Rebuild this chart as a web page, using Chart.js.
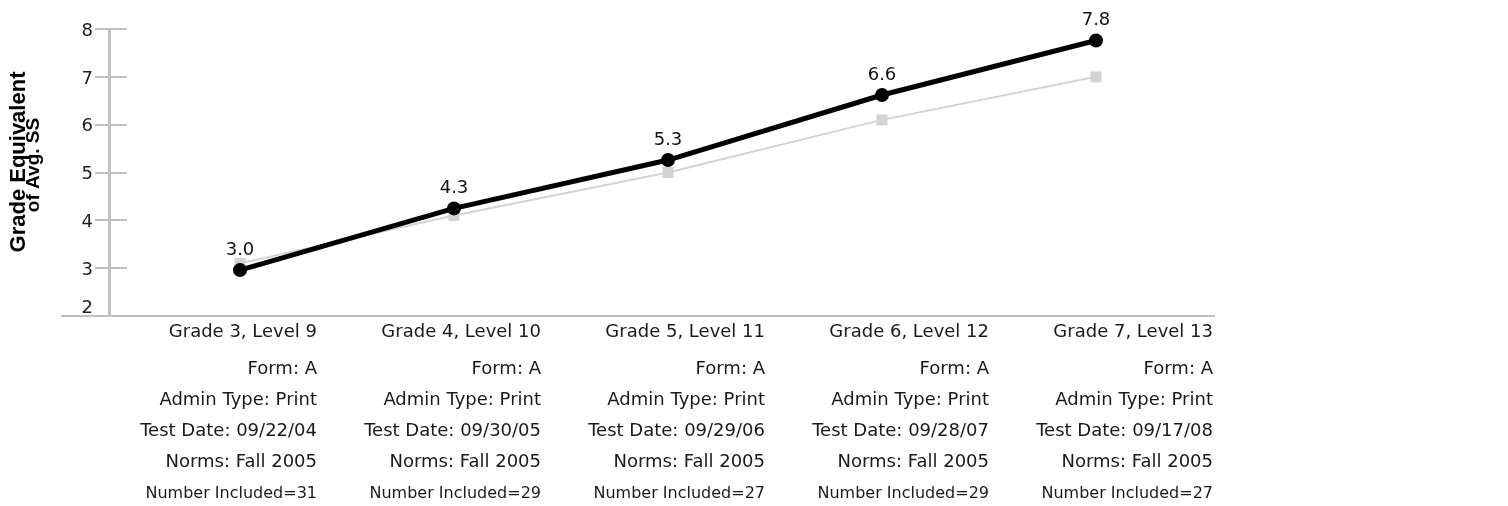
<!DOCTYPE html>
<html>
<head>
<meta charset="utf-8">
<script src="https://cdn.jsdelivr.net/npm/chart.js@4/dist/chart.umd.min.js"></script>
<style>
  html, body { margin: 0; padding: 0; background: #fff; }
  #wrap { width: 1508px; height: 506px; }
</style>
</head>
<body>
<div id="wrap"><canvas id="myChart"></canvas></div>
<script>
const grades = ['Grade 3, Level 9', 'Grade 4, Level 10', 'Grade 5, Level 11', 'Grade 6, Level 12', 'Grade 7, Level 13'];
const forms = ['A', 'A', 'A', 'A', 'A'];
const adminTypes = ['Print', 'Print', 'Print', 'Print', 'Print'];
const testDates = ['09/22/04', '09/30/05', '09/29/06', '09/28/07', '09/17/08'];
const norms = ['Fall 2005', 'Fall 2005', 'Fall 2005', 'Fall 2005', 'Fall 2005'];
const numberIncluded = [31, 29, 27, 29, 27];

const avgGE = [2.96, 4.25, 5.26, 6.62, 7.76];
const avgGELabels = ['3.0', '4.3', '5.3', '6.6', '7.8'];
const compareGE = [3.1, 4.1, 5.0, 6.1, 7.0];

const yTicks = [2, 3, 4, 5, 6, 7, 8];

const axisGrey = '#c0c0c0';
const textColor = '#1a1a1a';

// tick stubs on the right side of the y axis + the x axis line left of it
const axisExtras = {
    id: 'axisExtras',
    afterLayout(chart) {
        // lift the bottom "2" so it sits on the x axis like the original
        const y = chart.scales.y;
        const items = y.getLabelItems(chart.chartArea);
        items.forEach((it, i) => {
            const v = y.ticks[i] && y.ticks[i].value;
            it.options.translation[1] += (v === 2) ? -8 : 2;
        });
    },
    afterDraw(chart) {
        const ctx = chart.ctx;
        const area = chart.chartArea;
        const y = chart.scales.y;
        ctx.save();
        ctx.strokeStyle = axisGrey;
        ctx.lineWidth = 2;
        yTicks.forEach(v => {
            if (v === 2) return;
            const py = Math.round(y.getPixelForValue(v));
            ctx.beginPath();
            ctx.moveTo(area.left, py);
            ctx.lineTo(area.left + 18, py);
            ctx.stroke();
        });
        ctx.beginPath();
        ctx.moveTo(61, Math.round(area.bottom));
        ctx.lineTo(area.left, Math.round(area.bottom));
        ctx.stroke();

        // y axis title, two lines in two sizes
        ctx.fillStyle = '#000';
        ctx.translate(25, 162);
        ctx.rotate(-Math.PI / 2);
        ctx.textAlign = 'center';
        ctx.textBaseline = 'alphabetic';
        ctx.font = 'bold 22px "Liberation Sans"';
        ctx.fillText('Grade Equivalent', 0, 0);
        ctx.font = 'bold 19px "Liberation Sans"';
        ctx.fillText('of Avg. SS', -3, 14);
        ctx.restore();
    }
};

const pointLabels = {
    id: 'pointLabels',
    afterDatasetsDraw(chart) {
        const meta = chart.getDatasetMeta(0);
        const ctx = chart.ctx;
        ctx.save();
        ctx.fillStyle = '#111';
        ctx.font = '18px "DejaVu Sans"';
        ctx.textAlign = 'center';
        ctx.textBaseline = 'alphabetic';
        meta.data.forEach((pt, i) => {
            ctx.fillText(avgGELabels[i], pt.x, pt.y - 15);
        });
        ctx.restore();
    }
};

function labelAxis(weight, height, padding, size, lineHeight, getLabel) {
    return {
        type: 'linear',
        position: 'bottom',
        bounds: 'data',
        weight: weight,
        min: -0.9286,
        max: 4.0045,
        afterFit: (s) => { s.height = height; },
        grid: { display: false, drawTicks: false },
        border: { display: false },
        afterBuildTicks: (s) => { s.ticks = grades.map((g, i) => ({ value: i })); },
        ticks: {
            autoSkip: false,
            maxRotation: 0,
            minRotation: 0,
            align: 'end',
            padding: padding,
            color: textColor,
            font: { family: 'DejaVu Sans', size: size, lineHeight: lineHeight },
            callback: (v) => getLabel(Math.round(v))
        }
    };
}

const config = {
    type: 'line',
    data: {
        datasets: [
            {
                label: 'Grade Equivalent of Avg. SS',
                data: avgGE.map((v, i) => ({ x: i, y: v })),
                borderColor: '#000',
                backgroundColor: '#000',
                borderWidth: 5,
                pointRadius: 7,
                pointBorderWidth: 0,
                pointBackgroundColor: '#000',
                order: 0
            },
            {
                label: 'Comparison',
                data: compareGE.map((v, i) => ({ x: i, y: v })),
                borderColor: '#d3d3d3',
                backgroundColor: '#d3d3d3',
                borderWidth: 2,
                pointStyle: 'rect',
                pointRadius: 7.8,
                pointBorderWidth: 0,
                pointBackgroundColor: '#d3d3d3',
                order: 1
            }
        ]
    },
    options: {
        responsive: true,
        maintainAspectRatio: false,
        animation: false,
        layout: { padding: { top: 29, right: 294, bottom: 3, left: 0 } },
        plugins: {
            legend: { display: false },
            tooltip: { enabled: false }
        },
        scales: {
            x: {
                type: 'linear',
                position: 'bottom',
                bounds: 'data',
                weight: 0,
                min: -0.6121,
                max: 4.5514,
                afterFit: (s) => { s.height = 0; },
                grid: { display: false, drawTicks: false },
                border: { display: true, color: axisGrey, width: 2 },
                ticks: { display: false }
            },
            line1: labelAxis(1, 27.6, 6, 18, 1.2, (i) => grades[i]),
            lines2to5: labelAxis(2, 133.9, 10.8, 18, 1.711,
                (i) => ['Form: ' + forms[i], 'Admin Type: ' + adminTypes[i], 'Test Date: ' + testDates[i], 'Norms: ' + norms[i]]),
            line6: labelAxis(3, 25.5, 6.3, 16, 1.2, (i) => 'Number Included=' + numberIncluded[i]),
            y: {
                min: 2,
                max: 8,
                afterFit: (s) => { s.width = 109; },
                afterBuildTicks: (s) => { s.ticks = yTicks.map(v => ({ value: v })); },
                grid: {
                    display: true,
                    drawOnChartArea: false,
                    drawTicks: true,
                    tickLength: 14,
                    color: axisGrey,
                    lineWidth: 2
                },
                border: { display: true, color: axisGrey, width: 3 },
                ticks: {
                    padding: 2,
                    color: '#222',
                    font: { family: 'DejaVu Sans', size: 18 },
                    callback: (v) => String(v)
                }
            }
        }
    },
    plugins: [axisExtras, pointLabels]
};

new Chart(document.querySelector('#myChart'), config);
</script>
</body>
</html>
